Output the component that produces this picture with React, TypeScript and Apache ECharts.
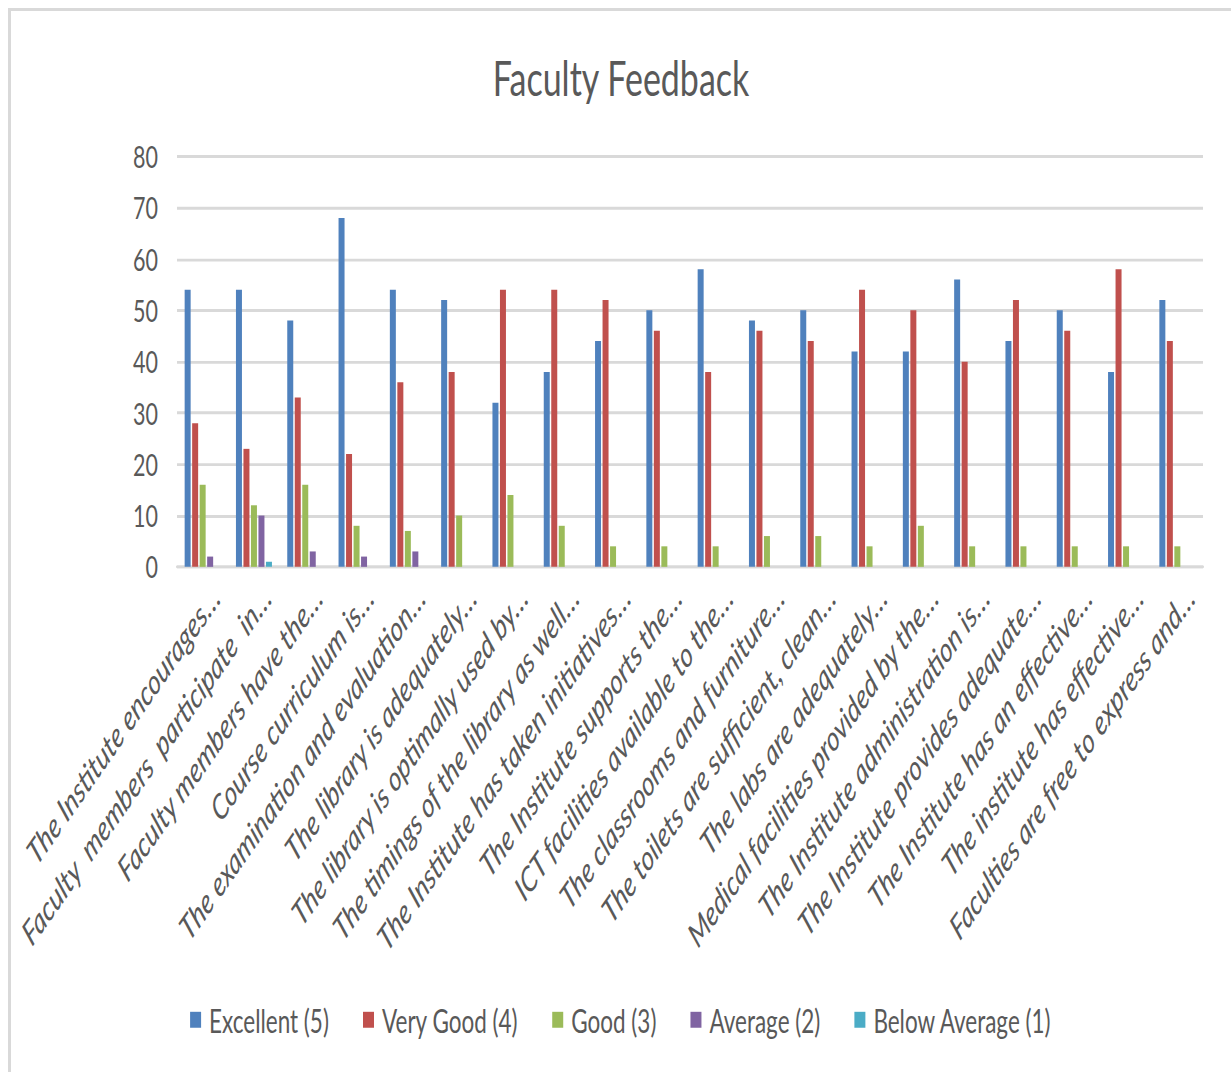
import React, { useEffect, useRef } from "react";
import * as echarts from "echarts";

const categories = [
  "The Institute encourages…",
  "Faculty  members  participate  in…",
  "Faculty members have the…",
  "Course curriculum is…",
  "The examination and evaluation…",
  "The library is adequately…",
  "The library is optimally used by…",
  "The timings of the library as well…",
  "The Institute has taken initiatives…",
  "The Institute supports the…",
  "ICT facilities available to the…",
  "The classrooms and furniture…",
  "The toilets are sufficient, clean…",
  "The labs are adequately…",
  "Medical facilities provided by the…",
  "The Institute administration is…",
  "The Institute provides adequate…",
  "The Institute has an effective…",
  "The institute has effective…",
  "Faculties are free to express and…",
];

const seriesNames = ["Excellent (5)", "Very Good (4)", "Good (3)", "Average (2)", "Below Average (1)"];
const excellent = [54, 54, 48, 68, 54, 52, 32, 38, 44, 50, 58, 48, 50, 42, 42, 56, 44, 50, 38, 52];
const veryGood = [28, 23, 33, 22, 36, 38, 54, 54, 52, 46, 38, 46, 44, 54, 50, 40, 52, 46, 58, 44];
const good = [16, 12, 16, 8, 7, 10, 14, 8, 4, 4, 4, 6, 6, 4, 8, 4, 4, 4, 4, 4];
const average = [2, 10, 3, 2, 3, 0, 0, 0, 0, 0, 0, 0, 0, 0, 0, 0, 0, 0, 0, 0];
const belowAverage = [0, 1, 0, 0, 0, 0, 0, 0, 0, 0, 0, 0, 0, 0, 0, 0, 0, 0, 0, 0];
const colors = ["#4F81BD", "#C0504D", "#9BBB59", "#8064A2", "#4BACC6"];
const yTicks = { min: 0, max: 80, interval: 10 };

const FONT = "Lato, 'Open Sans', sans-serif";
const TEXT = "#595959";
const STRETCH = 1.44;

export default function App() {
  const ref = useRef<HTMLDivElement>(null);
  useEffect(() => {
    if (!ref.current) return;
    const chart = echarts.init(ref.current, null, { renderer: "svg" });
    const data = [excellent, veryGood, good, average, belowAverage];
    chart.setOption({
      animation: false,
      backgroundColor: "#ffffff",
      color: colors,
      title: {
        text: "Faculty Feedback",
        left: "center",
        top: 24,
        textStyle: { fontFamily: FONT, fontSize: 34, fontWeight: "normal", color: TEXT },
      },
      legend: {
        data: seriesNames,
        left: "center",
        top: 684,
        itemWidth: 11,
        itemHeight: 11,
        itemGap: 34,
        icon: "rect",
        textStyle: { fontFamily: FONT, fontSize: 22.5, color: TEXT, padding: [0, 0, 0, 3] },
      },
      grid: { left: 166, right: 28, top: 101, bottom: 351, containLabel: false },
      xAxis: {
        type: "category",
        data: categories,
        axisLine: { show: true, lineStyle: { color: "#d9d9d9", width: 2 } },
        axisTick: { show: false },
        axisLabel: {
          interval: 0,
          rotate: 45,
          margin: 4,
          verticalAlign: "top",
          padding: [6, 0, 0, 0],
          fontFamily: FONT,
          fontStyle: "italic",
          fontSize: 24,
          color: TEXT,
        },
      },
      yAxis: {
        type: "value",
        min: yTicks.min,
        max: yTicks.max,
        interval: yTicks.interval,
        axisLine: { show: false },
        axisTick: { show: false },
        splitLine: { lineStyle: { color: "#d9d9d9", width: 2 } },
        axisLabel: { margin: 19, fontFamily: FONT, fontSize: 21.5, color: TEXT },
      },
      series: seriesNames.map((name, i) => ({
        name,
        type: "bar",
        data: data[i],
        barWidth: 6,
        barGap: "25%",
        itemStyle: { color: colors[i] },
      })),
    });
    return () => chart.dispose();
  }, []);

  return (
    <div
      style={{
        position: "fixed",
        left: 8,
        top: 8,
        width: 1240,
        height: 1090,
        borderTop: "3px solid #d9d9d9",
        borderLeft: "3px solid #d9d9d9",
        background: "#ffffff",
        overflow: "hidden",
      }}
    >
      <div
        ref={ref}
        style={{
          width: 1220,
          height: 737,
          transform: `scaleY(${STRETCH})`,
          transformOrigin: "0 0",
        }}
      />
    </div>
  );
}
